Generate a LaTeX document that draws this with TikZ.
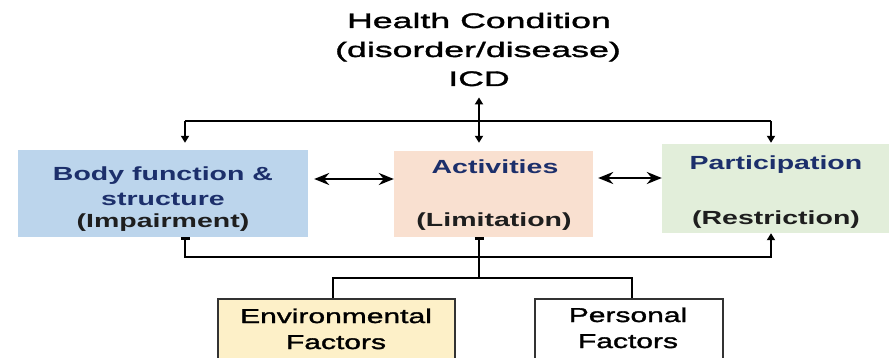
\documentclass[tikz,border=0pt]{standalone}
\usepackage{fontspec}
\setmainfont{Liberation Sans}
\newfontfamily\ttlfont[FakeStretch=1.70,FakeBold=1.6]{Liberation Sans}
\newfontfamily\boxfont[FakeStretch=1.5]{Liberation Sans}
\newfontfamily\facfont[FakeStretch=1.50,FakeBold=1.6]{Liberation Sans}
\usetikzlibrary{arrows.meta}
\definecolor{bodyblue}{HTML}{BCD5EC}
\definecolor{actpeach}{HTML}{F9E0D0}
\definecolor{partgreen}{HTML}{E2EEDA}
\definecolor{envyellow}{HTML}{FDF0C8}
\definecolor{navytxt}{HTML}{1C2F6B}
\definecolor{darktxt}{HTML}{1E1E1E}
\definecolor{edge}{HTML}{333333}
\begin{document}
\begin{tikzpicture}[x=1pt,y=-1pt,
  cbox/.style={rectangle,draw=none,inner sep=0pt},
  fbox/.style={rectangle,draw=edge,line width=1.8pt,inner sep=0pt},
  ttl/.style={anchor=base,inner sep=0pt,text=black,font=\ttlfont\fontsize{21}{25}\selectfont},
  btxt/.style={anchor=base,inner sep=0pt,font=\boxfont\bfseries\fontsize{19}{23}\selectfont},
  ftxt/.style={anchor=base,inner sep=0pt,text=black,font=\facfont\fontsize{20}{24}\selectfont},
  conn/.style={line width=2.6pt,black},
  tipd/.style={-{Triangle[length=7pt,width=8pt]}},
  dbl/.style={line width=2.8pt,{Stealth[length=15pt,width=12pt,inset=5pt]}-{Stealth[length=15pt,width=12pt,inset=5pt]}}
]
\useasboundingbox (0,0) rectangle (889,358);
\clip (0,0) rectangle (889,358);

% boxes
\node[cbox,fill=bodyblue,minimum width=290pt,minimum height=87pt] (body) at (163,193.5) {};
\node[cbox,fill=actpeach,minimum width=199pt,minimum height=86pt] (act) at (493.5,194) {};
\node[cbox,fill=partgreen,minimum width=240pt,minimum height=89pt] (part) at (782,188.5) {};
\node[fbox,fill=envyellow,minimum width=237pt,minimum height=70pt] (env) at (336.5,334) {};
\node[fbox,fill=white,minimum width=188pt,minimum height=70pt] (pers) at (629,334) {};

% title
\node[ttl] (hc1) at (479,28) {Health Condition};
\node[ttl] (hc2) at (478,57) {(disorder/disease)};
\node[ttl] (icd) at (479,86) {ICD};

% box texts
\node[btxt,text=navytxt] (b1) at (163,181) {Body function \&};
\node[btxt,text=navytxt] (b2) at (163,206) {structure};
\node[btxt,text=darktxt] (b3) at (163,228) {(Impairment)};
\node[btxt,text=navytxt] (a1) at (495,174) {Activities};
\node[btxt,text=darktxt] (a2) at (494,227) {(Limitation)};
\node[btxt,text=navytxt] (p1) at (776,170) {Participation};
\node[btxt,text=darktxt] (p2) at (776,225) {(Restriction)};
\node[ftxt] (e1) at (336,323) {Environmental};
\node[ftxt] (e2) at (336,349) {Factors};
\node[ftxt] (q1) at (628,322) {Personal};
\node[ftxt] (q2) at (628,348) {Factors};

% junction coordinates
\coordinate (tl) at (185,121);
\coordinate (tm) at (479,121);
\coordinate (tr) at (771,121);
\coordinate (bl) at (185,257);
\coordinate (br) at (771,257);
\coordinate (mb) at (479,278);
\coordinate (ml) at (333,278);
\coordinate (mr) at (632,278);

% top connectors
\draw[conn] (tl) -- (tr);
\draw[conn,tipd,shorten >=7pt] (tl) -- (tl |- body.north);
\draw[conn,tipd,shorten >=1pt] (tr) -- (tr |- part.north);
\draw[conn,{Triangle[length=7pt,width=8pt]}-{Triangle[length=7pt,width=8pt]},shorten <=11pt,shorten >=8pt] (icd.south -| tm) -- (tm |- act.north);

% side double arrows
\draw[dbl,shorten <=6pt] ([yshift=14.5pt]body.east) -- ([yshift=14.5pt]body.east -| act.west);
\draw[dbl,shorten <=5pt] ([yshift=16pt]act.east) -- ([yshift=16pt]act.east -| part.west);

% bottom connectors
\draw[conn,{Bar[width=9pt]}-{Triangle[length=7pt,width=8pt]}] (bl |- body.south) -- (bl) -- (br) -- (br |- part.south);
\draw[conn,{Bar[width=9pt]}-] (mb |- act.south) -- (mb);
\draw[conn] (env.north -| ml) -- (ml) -- (mr) -- (mr |- pers.north);
\end{tikzpicture}
\end{document}
